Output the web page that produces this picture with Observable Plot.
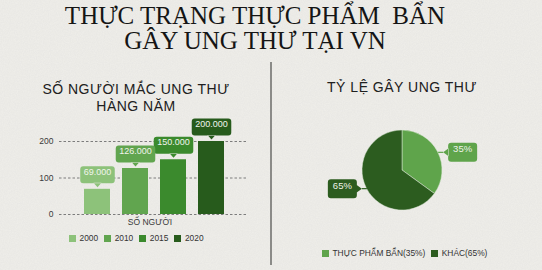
<!DOCTYPE html>
<html>
<head>
<meta charset="utf-8">
<script src="https://cdn.jsdelivr.net/npm/d3@7"></script>
<script src="https://cdn.jsdelivr.net/npm/@observablehq/plot@0.6"></script>
<style>
  html, body { margin: 0; padding: 0; }
  body {
    width: 542px; height: 270px; overflow: hidden;
    background-color: #efeeea;
    background-image: url("data:image/svg+xml;utf8,<svg xmlns='http://www.w3.org/2000/svg' width='240' height='240'><filter id='n'><feTurbulence type='fractalNoise' baseFrequency='0.85' numOctaves='2' stitchTiles='stitch'/><feColorMatrix values='0 0 0 0 0.45  0 0 0 0 0.45  0 0 0 0 0.43  0 0 0 0.12 0'/></filter><rect width='100%' height='100%' filter='url(%23n)'/></svg>");
    font-family: "Liberation Sans", Arial, sans-serif;
  }
  #page { position: relative; width: 542px; height: 270px; }
  .title {
    position: absolute; left: 0; top: 4px; width: 510px; text-align: center;
    font-family: "Liberation Serif", "Times New Roman", serif;
    font-size: 25px; line-height: 24.5px; color: #151515; white-space: pre;
  }
  .divider { position: absolute; left: 270px; top: 62px; width: 2px; height: 203px; background: #8b8b88; }
  .sub {
    position: absolute; text-align: center; font-size: 14px; letter-spacing: 0.5px;
    line-height: 17px; color: #202020; white-space: nowrap;
  }
  .chart { position: absolute; }
  .legend { position: absolute; display: flex; align-items: center; font-size: 8.4px; color: #333; height: 10px; white-space: nowrap; }
  .legend .item { display: inline-flex; align-items: center; margin-right: 6px; }
  .legend i { display: inline-block; width: 7px; height: 7px; margin-right: 3.5px; }
</style>
</head>
<body>
<div id="page">
  <div class="title">THỰC TRẠNG THỰC PHẨM  BẨN
GÂY UNG THƯ TẠI VN</div>
  <div class="divider"></div>
  <div class="sub" style="left:36px; width:200px; top:81px;">SỐ NGƯỜI MẮC UNG THƯ<br>HÀNG NĂM</div>
  <div class="sub" style="left:302px; width:200px; top:79px;">TỶ LỆ GÂY UNG THƯ</div>
  <div class="chart" id="bars" style="left:0; top:110px;"></div>
  <div class="chart" id="pie" style="left:272px; top:110px;"></div>
  <div class="legend" id="barLegend" style="left:69px; top:233px;"></div>
  <div class="legend" id="pieLegend" style="left:322px; top:248px;"></div>
</div>
<script>
// Cancer cases per year
const years = ["2000", "2010", "2015", "2020"];
const patients = [69000, 126000, 150000, 200000];
const yTicks = [0, 100, 200];
const barColors = ["#8dc27a", "#61a54f", "#3b8a2d", "#275b1c"];
const xLabel = "SỐ NGƯỜI";

// Share of causes
const causes = ["THỰC PHẨM BẨN", "KHÁC"];
const shares = [35, 65];
const pieColors = ["#5fa44b", "#2c5c1f"];

const FONT = '"Liberation Sans", Arial, sans-serif';
const vi = d3.formatLocale({decimal: ",", thousands: ".", grouping: [3], currency: ["", "₫"]});
const fmt = vi.format(",");

const measureCtx = document.createElement("canvas").getContext("2d");
function textWidth(s, size) {
  measureCtx.font = `${size}px ${FONT}`;
  return measureCtx.measureText(s).width;
}
const SVGNS = "http://www.w3.org/2000/svg";

function roundedBox(x0, y0, w, h, r) {
  return `M${x0 + r},${y0}H${x0 + w - r}A${r},${r} 0 0 1 ${x0 + w},${y0 + r}V${y0 + h - r}` +
    `A${r},${r} 0 0 1 ${x0 + w - r},${y0 + h}H${x0 + r}A${r},${r} 0 0 1 ${x0},${y0 + h - r}V${y0 + r}` +
    `A${r},${r} 0 0 1 ${x0 + r},${y0}Z`;
}

// Render transform that puts a rounded label box with a pointer behind each text
function callout({fontSize, padX, boxH, gap, tip, sideOf, fillOf, leader = false}) {
  return (index, scales, values, dimensions, context, next) => {
    const g = next(index, scales, values, dimensions, context);
    const texts = g.querySelectorAll("text");
    index.forEach((i, j) => {
      const t = texts[j];
      const X = values.x[i], Y = values.y[i];
      const w = textWidth(t.textContent, fontSize) + 2 * padX;
      const h = boxH;
      const side = sideOf(i, X, scales);
      const color = fillOf(i, scales);
      let cx, cy, d, line = null;
      if (side === "up") {
        cy = Y - gap - tip - h / 2; cx = X;
        const b = cy + h / 2;
        d = roundedBox(cx - w / 2, cy - h / 2, w, h, 3) + `M${X - 4},${b - 0.5}L${X},${b + tip}L${X + 4},${b - 0.5}Z`;
      } else if (side === "right") {
        cy = Y; const l = X + gap + tip; cx = l + w / 2;
        const a = leader ? tip / 2 : tip;
        d = roundedBox(l, cy - h / 2, w, h, 3) + `M${l + 0.5},${cy - 4}L${l - a},${cy}L${l + 0.5},${cy + 4}Z`;
        if (leader) line = `M${l - a},${cy}L${X},${Y}`;
      } else {
        cy = Y; const r = X - gap - tip; cx = r - w / 2;
        const a = leader ? tip / 2 : tip;
        d = roundedBox(r - w, cy - h / 2, w, h, 3) + `M${r - 0.5},${cy - 4}L${r + a},${cy}L${r - 0.5},${cy + 4}Z`;
        if (leader) line = `M${r + a},${cy}L${X},${Y}`;
      }
      const p = document.createElementNS(SVGNS, "path");
      p.setAttribute("d", d);
      p.setAttribute("fill", color);
      p.setAttribute("stroke", "none");
      g.insertBefore(p, g.firstChild);
      if (line) {
        const l = document.createElementNS(SVGNS, "path");
        l.setAttribute("d", line);
        l.setAttribute("fill", "none");
        l.setAttribute("stroke", color);
        l.setAttribute("stroke-width", 1.2);
        g.insertBefore(l, g.firstChild);
      }
      t.setAttribute("x", cx - X);
      t.setAttribute("y", cy - Y);
    });
    return g;
  };
}

// ---- Bar chart: cases per year (in thousands) ----
const barData = years.map((year, i) => ({year, patients: patients[i]}));

const bars = Plot.plot({
  width: 270,
  height: 118,
  marginTop: 31,
  marginBottom: 14,
  marginLeft: 59,
  marginRight: 22,
  style: {background: "transparent", fontFamily: FONT, color: "#444", overflow: "visible"},
  x: {domain: years, paddingInner: 0.316, paddingOuter: 0.63, axis: null},
  y: {domain: [0, 200]},
  color: {domain: years, range: barColors},
  marks: [
    Plot.gridY(yTicks, {stroke: "#6f6f6f", strokeOpacity: 1, strokeWidth: 0.9, strokeDasharray: "2.5,2"}),
    Plot.axisY(yTicks, {tickSize: 0, tickPadding: 6, fontSize: 8.5, label: null, fill: "#3a3a3a"}),
    Plot.barY(barData, {x: "year", y: d => d.patients / 1000, fill: "year"}),
    Plot.text(barData, {
      x: "year",
      y: d => d.patients / 1000,
      text: d => fmt(d.patients),
      fontSize: 9,
      fill: "#f1f4ec",
      render: callout({
        fontSize: 9, padX: 3.5, boxH: 17, gap: 2, tip: 4,
        sideOf: () => "up",
        fillOf: (i, s) => s.color(barData[i].year)
      })
    }),
    Plot.text([xLabel], {frameAnchor: "bottom", dy: 10, dx: -4, fontSize: 8.5, fill: "#3a3a3a"})
  ]
});
document.getElementById("bars").append(bars);

// ---- Pie chart: share of causes ----
const pieData = causes.map((cause, i) => ({cause, share: shares[i]}));
const arcs = d3.pie().sort(null).value(d => d.share)(pieData);
const pieLabels = arcs.map(a => {
  const m = (a.startAngle + a.endAngle) / 2;
  return {cause: a.data.cause, share: a.data.share, x: Math.sin(m), y: Math.cos(m)};
});

function pieSlices(slices) {
  return (index, scales) => {
    const cx = scales.x(0), cy = scales.y(0), r = scales.x(1) - scales.x(0);
    const colorOf = scales.color ?? (c => pieColors[causes.indexOf(c)]);
    const arc = d3.arc().innerRadius(0).outerRadius(r);
    const g = d3.create("svg:g").attr("transform", `translate(${cx},${cy})`);
    g.selectAll("path")
      .data(slices)
      .join("path")
      .attr("d", arc)
      .attr("fill", d => colorOf(d.data.cause))
      .attr("stroke", "#dfe8d8")
      .attr("stroke-width", 0.5);
    return g.node();
  };
}

const pie = Plot.plot({
  width: 270,
  height: 120,
  marginLeft: 90,
  marginRight: 100,
  marginTop: 20,
  marginBottom: 20,
  style: {background: "transparent", fontFamily: FONT, overflow: "visible"},
  x: {domain: [-1, 1], axis: null},
  y: {domain: [-1, 1], axis: null},
  color: {domain: causes, range: pieColors},
  marks: [
    pieSlices(arcs),
    Plot.text(pieLabels, {
      x: "x",
      y: "y",
      text: d => `${d.share}%`,
      fontSize: 9.5,
      fill: "#eef2ea",
      render: callout({
        fontSize: 9.5, padX: 5, boxH: 19, gap: 0, tip: 10, leader: true,
        sideOf: (i, X, s) => (X > s.x(0) ? "right" : "left"),
        fillOf: (i, s) => (s.color ? s.color(pieLabels[i].cause) : pieColors[i])
      })
    })
  ]
});
document.getElementById("pie").append(pie);

// ---- Legends ----
function legend(el, labels, colors) {
  d3.select(el).selectAll("span.item")
    .data(labels)
    .join("span")
    .attr("class", "item")
    .call(s => s.append("i").style("background", (d, i) => colors[i]))
    .call(s => s.append("span").text(d => d));
}
legend("#barLegend", years, barColors);
legend("#pieLegend", causes.map((c, i) => `${c}(${shares[i]}%)`), pieColors);
</script>
</body>
</html>
